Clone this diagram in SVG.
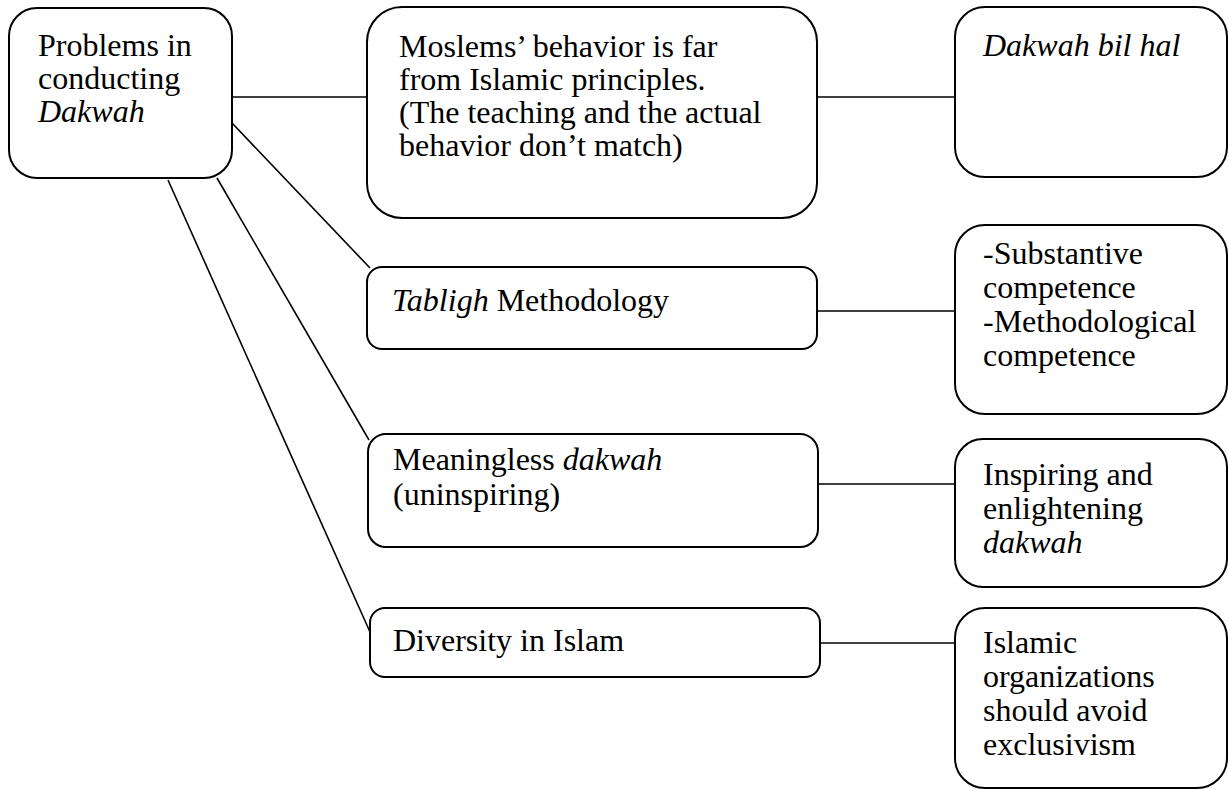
<svg xmlns="http://www.w3.org/2000/svg" width="1228" height="790" viewBox="0 0 1228 790">
<style>
.box{fill:#fff;stroke:#000;stroke-width:2}
.ln{stroke:#000;stroke-width:1.6;fill:none}
text{font-family:"Liberation Serif","Times New Roman",serif;font-size:32px;fill:#000}
.i{font-style:italic}
</style>
<rect width="1228" height="790" fill="#fff"/>
<g id="connectors">
<line class="ln" x1="232" y1="97" x2="367" y2="97"/>
<line class="ln" x1="232" y1="123" x2="370" y2="268"/>
<line class="ln" x1="217" y1="178" x2="369" y2="440"/>
<line class="ln" x1="168" y1="180" x2="370" y2="632"/>
<line class="ln" x1="817" y1="97" x2="955" y2="97"/>
<line class="ln" x1="817" y1="311" x2="955" y2="311"/>
<line class="ln" x1="818" y1="484" x2="955" y2="484"/>
<line class="ln" x1="820" y1="643" x2="955" y2="643"/>
</g>
<g id="n-problems">
<rect class="box" x="9" y="8" width="223" height="170" rx="28"/>
<text x="38" y="56">Problems in</text>
<text x="38" y="89">conducting</text>
<text x="38" y="122" class="i">Dakwah</text>
</g>
<g id="n-moslems">
<rect class="box" x="367" y="7" width="450" height="211" rx="35"/>
<text x="399" y="57">Moslems’ behavior is far</text>
<text x="399" y="90">from Islamic principles.</text>
<text x="399" y="123">(The teaching and the actual</text>
<text x="399" y="156">behavior don’t match)</text>
</g>
<g id="n-bilhal">
<rect class="box" x="955" y="7" width="272" height="170" rx="30"/>
<text x="983" y="56" class="i">Dakwah bil hal</text>
</g>
<g id="n-tabligh">
<rect class="box" x="367" y="267" width="450" height="82" rx="15"/>
<text x="392" y="311"><tspan class="i">Tabligh</tspan> Methodology</text>
</g>
<g id="n-competence">
<rect class="box" x="955" y="225" width="272" height="189" rx="30"/>
<text x="983" y="264">-Substantive</text>
<text x="983" y="298">competence</text>
<text x="983" y="332">-Methodological</text>
<text x="983" y="366">competence</text>
</g>
<g id="n-meaningless">
<rect class="box" x="368" y="434" width="450" height="113" rx="18"/>
<text x="393" y="470">Meaningless <tspan class="i">dakwah</tspan></text>
<text x="393" y="505">(uninspiring)</text>
</g>
<g id="n-inspiring">
<rect class="box" x="955" y="439" width="272" height="148" rx="28"/>
<text x="983" y="485">Inspiring and</text>
<text x="983" y="519">enlightening</text>
<text x="983" y="553" class="i">dakwah</text>
</g>
<g id="n-diversity">
<rect class="box" x="370" y="608" width="450" height="69" rx="15"/>
<text x="393" y="651">Diversity in Islam</text>
</g>
<g id="n-islamic">
<rect class="box" x="955" y="608" width="272" height="180" rx="30"/>
<text x="983" y="653">Islamic</text>
<text x="983" y="687">organizations</text>
<text x="983" y="721">should avoid</text>
<text x="983" y="755">exclusivism</text>
</g>
</svg>
